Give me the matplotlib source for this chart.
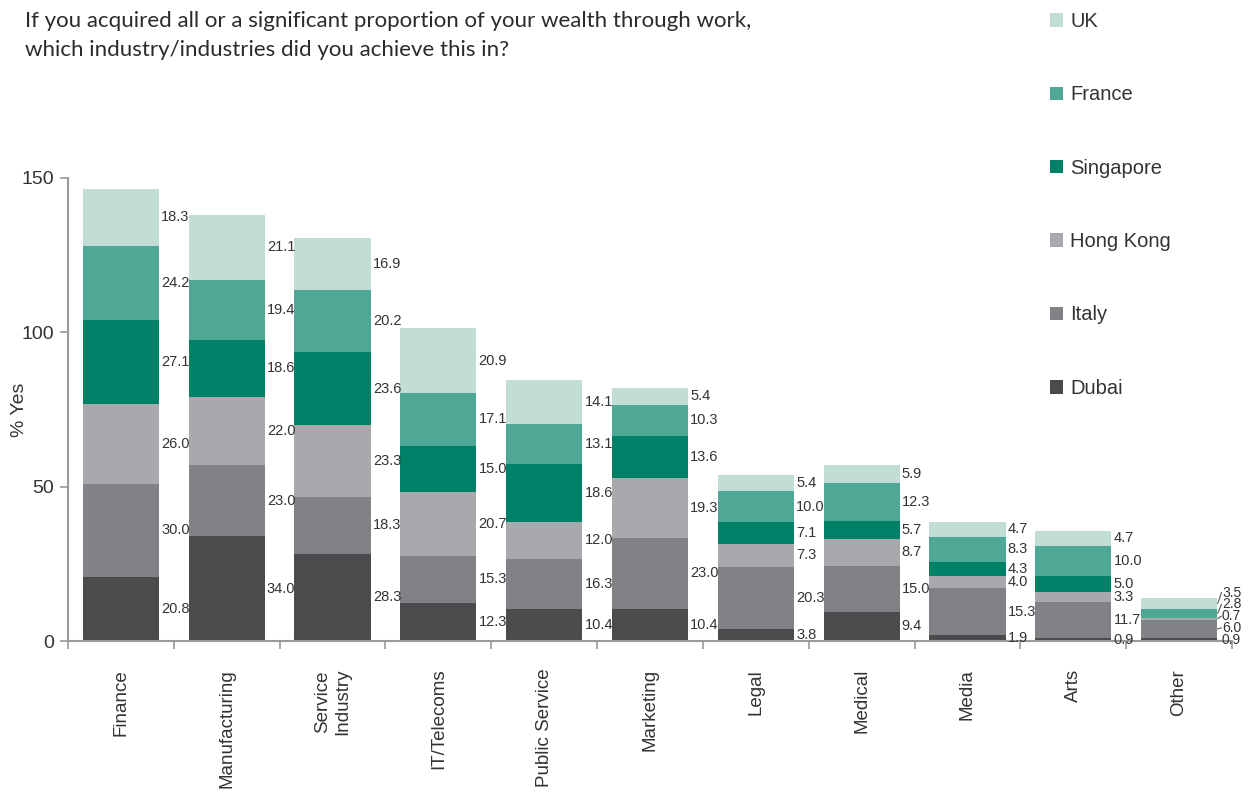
import numpy as np
import matplotlib
matplotlib.use("Agg")
import matplotlib.pyplot as plt

# survey results, % answering yes, per industry and country
industries = ["Finance", "Manufacturing", "Service\nIndustry", "IT/Telecoms",
              "Public Service", "Marketing", "Legal", "Medical", "Media", "Arts", "Other"]
countries = ["Dubai", "Italy", "Hong Kong", "Singapore", "France", "UK"]

dubai     = [20.8, 34.0, 28.3, 12.3, 10.4, 10.4, 3.8, 9.4, 1.9, 0.9, 0.9]
italy     = [30.0, 23.0, 18.3, 15.3, 16.3, 23.0, 20.3, 15.0, 15.3, 11.7, 6.0]
hong_kong = [26.0, 22.0, 23.3, 20.7, 12.0, 19.3, 7.3, 8.7, 4.0, 3.3, 0.7]
singapore = [27.1, 18.6, 23.6, 15.0, 18.6, 13.6, 7.1, 5.7, 4.3, 5.0, 0.0]
france    = [24.2, 19.4, 20.2, 17.1, 13.1, 10.3, 10.0, 12.3, 8.3, 10.0, 2.8]
uk        = [18.3, 21.1, 16.9, 20.9, 14.1, 5.4, 5.4, 5.9, 4.7, 4.7, 3.5]

series = [dubai, italy, hong_kong, singapore, france, uk]
colors = ["#4b4b4d", "#818285", "#a7a9ac", "#008066", "#4fa795", "#c2ddd5"]

txt = "#333333"
axis_col = "#9a9a9a"
plt.rcParams["font.family"] = ["Liberation Sans", "DejaVu Sans"]

fig = plt.figure(figsize=(12.48, 8.01), dpi=100)
ax = fig.add_axes([68 / 1248, 1 - 641 / 801, (1232 - 68) / 1248, (641 - 178) / 801])

x = np.arange(len(industries))
width = 0.72
bottom = np.zeros(len(industries))
handles = []
segs = []  # (category, mid, value) for the labels
for vals, col, name in zip(series, colors, countries):
    vals = np.array(vals)
    b = ax.bar(x, vals, width, bottom=bottom, color=col, label=name, linewidth=0)
    handles.append(b)
    for i, v in enumerate(vals):
        if v > 0:
            segs.append((i, bottom[i] + v / 2, v))
    bottom += vals

# value labels to the right of each bar, nudged apart when crowded
gap = 3.8
for i in range(len(industries)):
    items = sorted([s for s in segs if s[0] == i], key=lambda s: s[1])
    ys = []
    for _, mid, v in items:
        y = mid if not ys else max(mid, ys[-1] + gap)
        ys.append(y)
    crowded = any(abs(y - s[1]) > 0.3 for y, s in zip(ys, items))
    xr = i + width / 2
    for (_, mid, v), y in zip(items, ys):
        if crowded:
            ax.plot([xr + 0.005, xr + 0.04], [mid, y], color="#555555", lw=0.8,
                    clip_on=False)
            tx = xr + 0.045
            fs = 10
        else:
            tx = xr + 0.02
            fs = 10.5
        ax.text(tx, y, f"{v:.1f}", ha="left", va="center", fontsize=fs,
                color=txt, clip_on=False)

ax.set_xlim(-0.5, len(industries) - 0.5)
ax.set_ylim(0, 150)
ax.set_yticks([0, 50, 100, 150])
ax.tick_params(axis="y", direction="out", length=6, width=1.2, color=axis_col,
               labelsize=14, labelcolor=txt, pad=4)

ax.set_xticks(np.arange(-0.5, len(industries)), minor=False)
ax.set_xticklabels([])
ax.set_xticks(x, minor=True)
ax.set_xticklabels(industries, minor=True, rotation=90, va="top", ha="center",
                   fontsize=13.5, color=txt)
ax.tick_params(axis="x", which="major", direction="out", length=6, width=1.2,
               color=axis_col)
ax.tick_params(axis="x", which="minor", length=0, pad=20)

for side in ["top", "right"]:
    ax.spines[side].set_visible(False)
for side in ["left", "bottom"]:
    ax.spines[side].set_color(axis_col)
    ax.spines[side].set_linewidth(1.5)

fig.text(19 / 1248, 1 - 410 / 801, "% Yes", rotation=90, ha="center", va="center",
         fontsize=14, color=txt)

fig.text(25 / 1248, 1 - 11 / 801,
         "If you acquired all or a significant proportion of your wealth through work,\n"
         "which industry/industries did you achieve this in?",
         ha="left", va="top", fontsize=16, color="#2b2b2b", family="Lato",
         linespacing=1.55)

ax.legend(handles[::-1], countries[::-1], loc="upper left",
          bbox_to_anchor=(1050 / 1248, 1 - 12 / 801), bbox_transform=fig.transFigure,
          frameon=False, fontsize=14.5, handlelength=0.65, handleheight=0.65,
          handletextpad=0.35, labelspacing=2.7, borderaxespad=0, borderpad=0,
          labelcolor=txt)

fig.savefig("out.png", dpi=100)
